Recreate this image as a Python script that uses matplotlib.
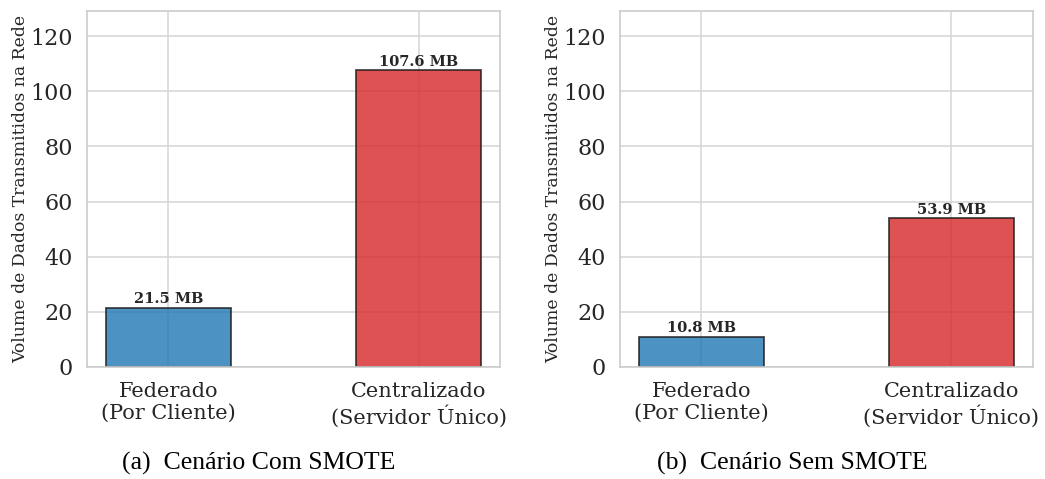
import matplotlib
matplotlib.use("Agg")
import matplotlib.pyplot as plt
import seaborn as sns

categories = ["Federado\n(Por Cliente)", "Centralizado\n(Servidor Único)"]
com_smote = [21.5, 107.6]
sem_smote = [10.8, 53.9]
captions = ["(a)  Cenário Com SMOTE", "(b)  Cenário Sem SMOTE"]
colors = ["#1f77b4", "#d62728"]
ylabel = "Volume de Dados Transmitidos na Rede"

sns.set_theme(style="whitegrid")
plt.rcParams["font.family"] = ["DejaVu Serif"]

fig = plt.figure(figsize=(10.45, 4.79), dpi=100)
axes = [fig.add_axes([0.0833, 0.234, 0.395, 0.743]),
        fig.add_axes([0.5933, 0.234, 0.395, 0.743])]

ymax = max(com_smote) * 1.2
for ax, vals, cap, cx in zip(axes, [com_smote, sem_smote], captions, [0.248, 0.758]):
    bars = ax.bar(range(len(categories)), vals, width=0.5, color=colors,
                  alpha=0.8, edgecolor="#1a1a1a", linewidth=1.3)
    for b, v in zip(bars, vals):
        ax.text(b.get_x() + b.get_width() / 2, v + 0.6, f"{v:.1f} MB",
                ha="center", va="bottom", fontsize=10.5, fontweight="bold",
                color="#262626")
    ax.set_ylim(0, ymax)
    ax.set_xticks(range(len(categories)))
    ax.set_xticklabels(categories, fontsize=15, color="#262626")
    ax.tick_params(axis="y", labelsize=16, labelcolor="#262626", pad=4)
    ax.tick_params(axis="x", pad=5)
    ax.set_ylabel(ylabel, fontsize=12.4, color="#262626", labelpad=1)
    for s in ax.spines.values():
        s.set_color("#cccccc")
        s.set_linewidth(1.2)
    ax.grid(True, color="#d5d5d5", linewidth=1.1)
    fig.text(cx, 0.008, cap, ha="center", va="bottom", fontsize=18.5,
             family=["Liberation Serif"], color="black")

fig.savefig("out.png", dpi=100)
